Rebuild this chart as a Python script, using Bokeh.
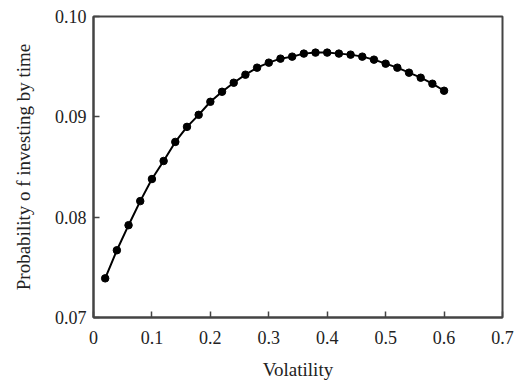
from bokeh.plotting import figure
from bokeh.models import FixedTicker
from bokeh.embed import file_html
from bokeh.resources import INLINE

volatility = [0.02, 0.04, 0.06, 0.08, 0.10, 0.12, 0.14, 0.16, 0.18, 0.20,
              0.22, 0.24, 0.26, 0.28, 0.30, 0.32, 0.34, 0.36, 0.38, 0.40,
              0.42, 0.44, 0.46, 0.48, 0.50, 0.52, 0.54, 0.56, 0.58, 0.60]
probability = [0.0739, 0.0767, 0.0792, 0.0816, 0.0838, 0.0856, 0.0875, 0.0890, 0.0902, 0.0915,
               0.0925, 0.0934, 0.0942, 0.0949, 0.0954, 0.0958, 0.0960, 0.0963, 0.0964, 0.0964,
               0.0963, 0.0962, 0.0960, 0.0957, 0.0953, 0.0949, 0.0944, 0.0939, 0.0933, 0.0926]
x_ticks = [0, 0.1, 0.2, 0.3, 0.4, 0.5, 0.6, 0.7]
x_labels = ["0", "0.1", "0.2", "0.3", "0.4", "0.5", "0.6", "0.7"]
y_ticks = [0.07, 0.08, 0.09, 0.10]
y_labels = ["0.07", "0.08", "0.09", "0.10"]

FONT = "Liberation Serif"
AXC = "#444444"

p = figure(width=516, height=382, output_backend="svg", toolbar_location=None,
           x_range=(0, 0.7), y_range=(0.07, 0.10),
           min_border_left=93, min_border_right=14, min_border_top=16, min_border_bottom=62)
p.grid.visible = False
p.outline_line_color = AXC
p.outline_line_width = 2
p.background_fill_color = "white"
p.border_fill_color = "white"

p.line(volatility, probability, line_color="black", line_width=2)
p.scatter(volatility, probability, size=7.5, fill_color="black", line_color="black")

for ax, ticks, labels in ((p.xaxis[0], x_ticks, x_labels), (p.yaxis[0], y_ticks, y_labels)):
    ax.ticker = FixedTicker(ticks=ticks)
    ax.major_label_overrides = {t: l for t, l in zip(ticks, labels)}
    ax.axis_line_color = AXC
    ax.axis_line_width = 2
    ax.major_tick_line_color = AXC
    ax.major_tick_line_width = 1.5
    ax.major_tick_in = 6
    ax.major_tick_out = 0
    ax.minor_tick_line_color = None
    ax.major_label_text_font = FONT
    ax.major_label_text_font_size = "18px"
    ax.major_label_text_color = "#222222"
    ax.axis_label_text_font = FONT
    ax.axis_label_text_font_size = "19px"
    ax.axis_label_text_font_style = "normal"
    ax.axis_label_text_color = "#222222"

p.xaxis.axis_label = "Volatility"
p.yaxis.axis_label = "Probability o f investing by time"
p.xaxis.major_label_standoff = 13
p.yaxis.major_label_standoff = 7
p.xaxis.axis_label_standoff = 12
p.yaxis.axis_label_standoff = 18

open("out.html", "w").write(file_html(p, INLINE))
